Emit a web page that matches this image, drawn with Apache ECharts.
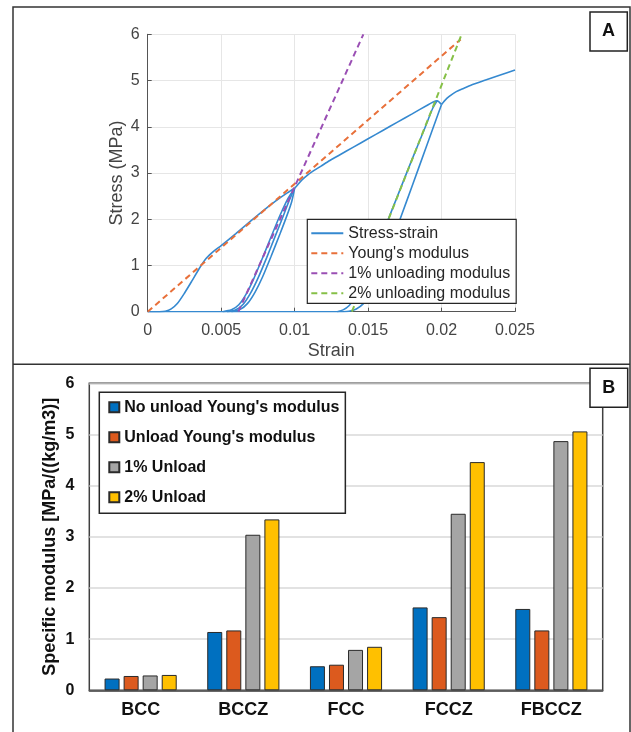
<!DOCTYPE html>
<html>
<head>
<meta charset="utf-8">
<script src="https://cdn.jsdelivr.net/npm/echarts@6/dist/echarts.min.js"></script>
<style>
html,body{margin:0;padding:0;background:#fff;}
#chart{width:631px;height:732px;}
</style>
</head>
<body>
<div id="chart"></div>
<script>
// ---------- Panel A data ----------
const strainTickLabels = ['0', '0.005', '0.01', '0.015', '0.02', '0.025'];
const stressTickLabels = ['0', '1', '2', '3', '4', '5', '6'];

const loading1 = [[0,0],[0.0008,0],[0.0012,0.01],[0.0016,0.06],[0.002,0.17],[0.0025,0.40],[0.003,0.66],[0.0035,0.93],[0.004,1.16],[0.0045,1.31],[0.005,1.43],[0.006,1.69],[0.007,1.96],[0.008,2.22],[0.009,2.46],[0.0095,2.57],[0.01,2.67]];
const unload1a = [[0.0051,0],[0.0057,0.04],[0.0062,0.15],[0.0067,0.38],[0.0072,0.7],[0.0078,1.15],[0.0084,1.62],[0.009,2.08],[0.0095,2.42],[0.01,2.67]];
const unload1b = [[0.0054,0],[0.006,0.04],[0.0065,0.16],[0.007,0.4],[0.0075,0.72],[0.0081,1.17],[0.0087,1.65],[0.0092,2.05],[0.0096,2.38],[0.01,2.67]];
const unload1c = [[0.0057,0],[0.0063,0.05],[0.0068,0.18],[0.0073,0.42],[0.0078,0.74],[0.0084,1.2],[0.009,1.68],[0.0095,2.1],[0.0098,2.38],[0.01,2.67]];
const loading2 = [[0.01,2.67],[0.0102,2.74],[0.0105,2.85],[0.0109,2.96],[0.0113,3.05],[0.0118,3.15],[0.0124,3.27],[0.013,3.38],[0.014,3.56],[0.015,3.74],[0.016,3.92],[0.017,4.1],[0.018,4.28],[0.019,4.46],[0.0194,4.53],[0.0197,4.56],[0.02,4.48]];
const unload2a = [[0.0129,0],[0.0133,0.04],[0.0137,0.13],[0.0141,0.3],[0.0145,0.55],[0.015,0.9],[0.016,1.7],[0.017,2.5],[0.018,3.3],[0.0189,4.0],[0.0194,4.4],[0.0197,4.56]];
const unload2b = [[0.0133,0],[0.0137,0.01],[0.0142,0.06],[0.0147,0.18],[0.0152,0.4],[0.0157,0.72],[0.0162,1.14],[0.0167,1.58],[0.0172,2.02],[0.018,2.72],[0.019,3.6],[0.0196,4.13],[0.02,4.48]];
const loading3 = [[0.02,4.48],[0.0202,4.56],[0.0205,4.65],[0.021,4.76],[0.0215,4.83],[0.022,4.9],[0.023,5.01],[0.024,5.12],[0.025,5.23]];
const zeroLine = [[0,0],[0.0133,0]];
const youngLine = [[0,0],[0.0213,5.89]];
const unload1Line = [[0.00617,0],[0.01468,6]];
const unload2Line = [[0.0139,0],[0.02137,6]];
const lineNames = ['Stress-strain', "Young's modulus", '1% unloading modulus', '2% unloading modulus'];

// ---------- Panel B data ----------
const categories = ['BCC', 'BCCZ', 'FCC', 'FCCZ', 'FBCCZ'];
const barNames = ["No unload Young's modulus", "Unload Young's modulus", '1% Unload', '2% Unload'];
const noUnloadYoung = [0.23, 1.14, 0.47, 1.62, 1.59];
const unloadYoung = [0.28, 1.17, 0.50, 1.43, 1.17];
const unload1pct = [0.29, 3.04, 0.79, 3.45, 4.87];
const unload2pct = [0.30, 3.34, 0.85, 4.46, 5.06];
const modulusTickLabels = ['0', '1', '2', '3', '4', '5', '6'];

const blueSS = '#3589d0';
const ssSegments = [loading1, unload1a, unload1b, unload1c, loading2, unload2a, unload2b, loading3, zeroLine];

const sansA = 'Liberation Sans, Arial, sans-serif';
const axisTextColor = '#444';

const series = [];
ssSegments.forEach(seg => {
  series.push({
    name: lineNames[0], type: 'line', xAxisIndex: 0, yAxisIndex: 0,
    data: seg, showSymbol: false, symbol: 'none', smooth: 0.25,
    lineStyle: {color: blueSS, width: 1.6}, itemStyle: {color: blueSS}, z: 3
  });
});
const dashed = [[youngLine, '#e8703a'], [unload1Line, '#9a4fb4'], [unload2Line, '#86c047']];
dashed.forEach((d, i) => {
  series.push({
    name: lineNames[i + 1], type: 'line', xAxisIndex: 0, yAxisIndex: 0,
    data: d[0], showSymbol: false, symbol: 'none',
    lineStyle: {color: d[1], width: 2, type: [6, 4]}, itemStyle: {color: d[1]}, z: 4
  });
});

const barColors = ['#0070c0', '#dc5a1e', '#a5a5a5', '#ffc000'];
const barData = [noUnloadYoung, unloadYoung, unload1pct, unload2pct];
barData.forEach((vals, i) => {
  series.push({
    name: barNames[i], type: 'bar', xAxisIndex: 1, yAxisIndex: 1,
    data: vals, barWidth: 15, barGap: '27%',
    itemStyle: {color: barColors[i], borderColor: '#2a2a2a', borderWidth: 1}
  });
});

const chart = echarts.init(document.getElementById('chart'), null, {renderer: 'canvas'});
chart.setOption({
  animation: false,
  backgroundColor: '#fff',
  grid: [
    {left: 147.7, top: 34.3, width: 367.3, height: 277.4},
    {left: 89.3, top: 383.3, width: 513.4, height: 307, show: true, borderColor: '#404040', borderWidth: 1.5, backgroundColor: 'transparent'}
  ],
  xAxis: [
    {
      type: 'value', gridIndex: 0, min: 0, max: 0.025, interval: 0.005,
      name: 'Strain', nameLocation: 'middle', nameGap: 30, nameMoveOverlap: false,
      nameTextStyle: {fontFamily: sansA, fontSize: 18, color: axisTextColor},
      axisLine: {lineStyle: {color: '#555', width: 1}},
      axisTick: {show: true, inside: true, length: 4, lineStyle: {color: '#555'}},
      axisLabel: {fontFamily: sansA, fontSize: 16, color: axisTextColor, margin: 11,
        formatter: v => strainTickLabels[Math.round(v / 0.005)]},
      splitLine: {show: true, lineStyle: {color: '#e6e6e6', width: 1}}
    },
    {
      type: 'category', gridIndex: 1, data: categories,
      axisLine: {lineStyle: {color: '#404040', width: 1.5}},
      axisTick: {show: false},
      axisLabel: {fontFamily: sansA, fontWeight: 'bold', fontSize: 18, color: '#111', margin: 11}
    }
  ],
  yAxis: [
    {
      type: 'value', gridIndex: 0, min: 0, max: 6, interval: 1,
      name: 'Stress (MPa)', nameLocation: 'middle', nameGap: 22, nameMoveOverlap: false,
      nameTextStyle: {fontFamily: sansA, fontSize: 18, color: axisTextColor},
      axisLine: {show: true, lineStyle: {color: '#555', width: 1}},
      axisTick: {show: true, inside: true, length: 4, lineStyle: {color: '#555'}},
      axisLabel: {fontFamily: sansA, fontSize: 16, color: axisTextColor, margin: 8,
        formatter: v => stressTickLabels[Math.round(v)]},
      splitLine: {show: true, lineStyle: {color: '#e6e6e6', width: 1}}
    },
    {
      type: 'value', gridIndex: 1, min: 0, max: 6, interval: 1,
      name: 'Specific modulus [MPa/((kg/m3)]', nameLocation: 'middle', nameGap: 30, nameMoveOverlap: false,
      nameTextStyle: {fontFamily: sansA, fontWeight: 'bold', fontSize: 18, color: '#111'},
      axisLine: {show: false}, axisTick: {show: false},
      axisLabel: {fontFamily: sansA, fontWeight: 'bold', fontSize: 16, color: '#111', margin: 15,
        formatter: v => modulusTickLabels[Math.round(v)]},
      splitLine: {show: true, lineStyle: {color: '#d9d9d9', width: 1.5}}
    }
  ],
  legend: [
    {
      data: lineNames, orient: 'vertical', left: 307.3, top: 219.3,
      padding: [5, 6, 1, 3], itemGap: 2, itemWidth: 32, itemHeight: 14,
      itemStyle: {opacity: 0},
      backgroundColor: '#fff', borderColor: '#262626', borderWidth: 1.2,
      textStyle: {fontFamily: sansA, fontSize: 16, color: '#262626', lineHeight: 18},
      selectedMode: false, z: 10
    },
    {
      data: barNames, orient: 'vertical', left: 99.3, top: 392.3,
      padding: [5, 6, 6, 9], itemGap: 10, itemWidth: 10, itemHeight: 10, icon: 'rect',
      backgroundColor: '#fff', borderColor: '#262626', borderWidth: 1.5,
      textStyle: {fontFamily: sansA, fontWeight: 'bold', fontSize: 16, color: '#111', lineHeight: 20},
      selectedMode: false, z: 10
    }
  ],
  graphic: [
    {type: 'rect', shape: {x: 13, y: 7, width: 617, height: 740}, style: {fill: 'none', stroke: '#333', lineWidth: 1.5}, z: 100, silent: true},
    {type: 'line', shape: {x1: 13, y1: 364.3, x2: 630, y2: 364.3}, style: {stroke: '#333', lineWidth: 1.5}, z: 100, silent: true},
    {type: 'rect', shape: {x: 590, y: 12, width: 37.3, height: 39}, style: {fill: '#fff', stroke: '#222', lineWidth: 1.5}, z: 100, silent: true},
    {type: 'text', x: 608.6, y: 31.5, style: {text: 'A', fontFamily: sansA, fontWeight: 'bold', fontSize: 18, fill: '#111', align: 'center', verticalAlign: 'middle'}, z: 101, silent: true},
    {type: 'rect', shape: {x: 590, y: 368.3, width: 37.7, height: 39}, style: {fill: '#fff', stroke: '#222', lineWidth: 1.5}, z: 100, silent: true},
    {type: 'text', x: 608.8, y: 388, style: {text: 'B', fontFamily: sansA, fontWeight: 'bold', fontSize: 18, fill: '#111', align: 'center', verticalAlign: 'middle'}, z: 101, silent: true}
  ],
  series: series
});
</script>
</body>
</html>
